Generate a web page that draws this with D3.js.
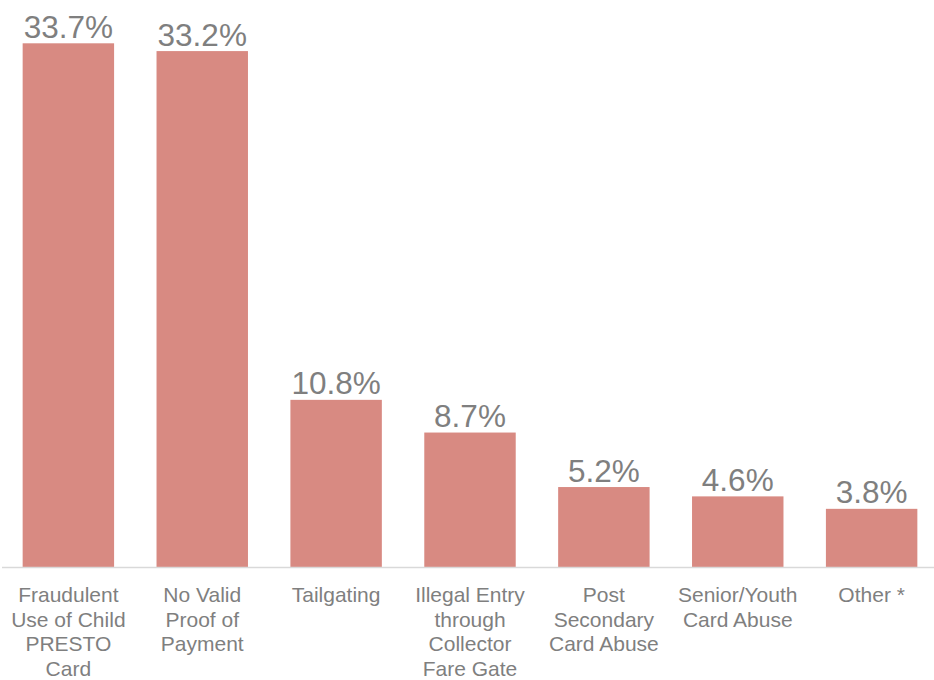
<!DOCTYPE html>
<html>
<head>
<meta charset="utf-8">
<script src="https://cdn.jsdelivr.net/npm/d3@7"></script>
<style>
  body { margin: 0; background: #fff; }
  svg { display: block; }
</style>
</head>
<body>
<svg id="chart" width="934" height="680"></svg>
<script>
// Category labels, already broken into lines as in the original chart
var categories = [
  'Fraudulent\nUse of Child\nPRESTO\nCard',
  'No Valid\nProof of\nPayment',
  'Tailgating',
  'Illegal Entry\nthrough\nCollector\nFare Gate',
  'Post\nSecondary\nCard Abuse',
  'Senior/Youth\nCard Abuse',
  'Other *'
]
// Share of offences, in percent
var values = [33.7, 33.2, 10.8, 8.7, 5.2, 4.6, 3.8]

var barColor = '#d88a82'
var textColor = '#7f7f7f'
var axisColor = '#d9d9d9'

var width = 934, height = 680
var baseY = 568

var svg = d3.select('#chart')

var x = d3.scaleBand()
  .domain(d3.range(categories.length))
  .range([1.5, 938.5])
  .paddingInner(0.317)
  .paddingOuter(0.158)

var y = d3.scaleLinear()
  .domain([0, 33.7])
  .range([baseY, 43.3])

// bars
svg.selectAll('rect.bar')
  .data(values)
  .enter().append('rect')
  .attr('class', 'bar')
  .attr('x', function(d, i) { return x(i) })
  .attr('y', function(d) { return y(d) })
  .attr('width', x.bandwidth())
  .attr('height', function(d) { return baseY - y(d) })
  .attr('fill', barColor)

// baseline
svg.append('line')
  .attr('x1', 2).attr('x2', width)
  .attr('y1', baseY - 0.5).attr('y2', baseY - 0.5)
  .attr('stroke', axisColor)
  .attr('stroke-width', 1.5)

// value labels
svg.selectAll('text.value')
  .data(values)
  .enter().append('text')
  .attr('class', 'value')
  .attr('x', function(d, i) { return x(i) + x.bandwidth() / 2 })
  .attr('y', function(d) { return y(d) - 5.5 })
  .attr('text-anchor', 'middle')
  .attr('font-family', 'Liberation Sans, Arial, sans-serif')
  .attr('font-size', 31.5)
  .attr('fill', textColor)
  .text(function(d) { return d.toFixed(1) + '%' })

// category labels
var cat = svg.selectAll('text.cat')
  .data(categories)
  .enter().append('text')
  .attr('class', 'cat')
  .attr('text-anchor', 'middle')
  .attr('font-family', 'Liberation Sans, Arial, sans-serif')
  .attr('font-size', 21)
  .attr('fill', textColor)

cat.selectAll('tspan')
  .data(function(d, i) {
    return d.split('\n').map(function(line) { return { line: line, i: i } })
  })
  .enter().append('tspan')
  .attr('x', function(d) { return x(d.i) + x.bandwidth() / 2 })
  .attr('y', function(d, j) { return 602 + j * 24.5 })
  .text(function(d) { return d.line })
</script>
</body>
</html>
